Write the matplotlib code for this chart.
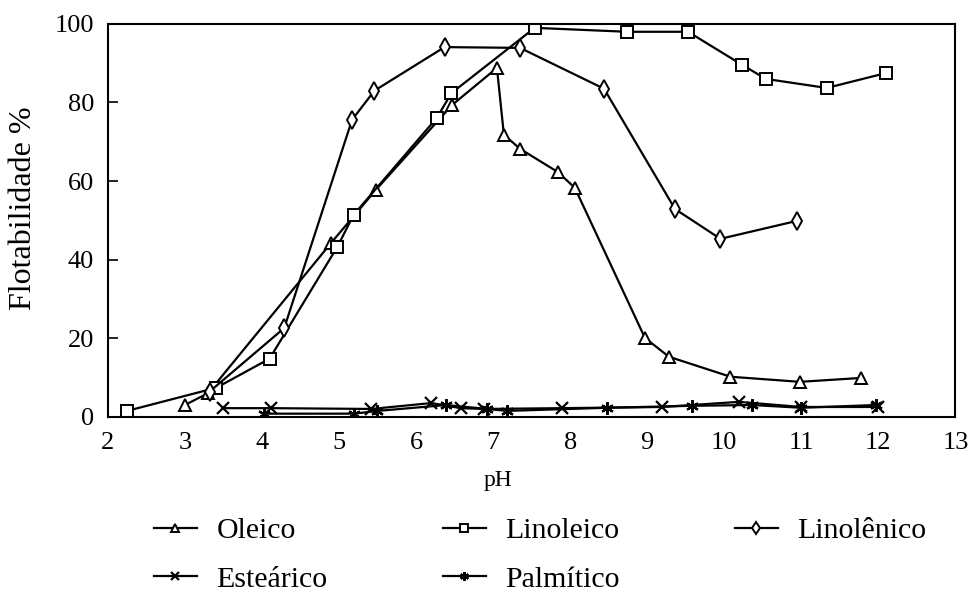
import matplotlib
matplotlib.use("Agg")
import matplotlib.pyplot as plt

plt.rcParams['font.family'] = ['Liberation Serif', 'DejaVu Serif']

# Data
oleico_x = [3.0, 3.3, 4.9, 5.48, 6.47, 7.05, 7.14, 7.35, 7.84, 8.06, 8.97, 9.28, 10.08, 10.98, 11.78]
oleico_y = [3.0, 6.0, 44.3, 57.8, 79.4, 88.8, 71.8, 68.2, 62.3, 58.3, 20.1, 15.3, 10.2, 8.9, 9.9]

linoleico_x = [2.25, 3.41, 4.10, 4.98, 5.19, 6.27, 6.46, 7.54, 8.74, 9.53, 10.23, 10.54, 11.33, 12.10]
linoleico_y = [1.5, 7.4, 14.8, 43.3, 51.4, 76.1, 82.4, 99.0, 98.0, 98.0, 89.6, 86.0, 83.7, 87.5]

linolenico_x = [3.32, 4.29, 5.17, 5.46, 6.37, 7.35, 8.44, 9.36, 9.95, 10.95]
linolenico_y = [6.4, 22.6, 75.6, 83.0, 94.1, 93.9, 83.5, 52.9, 45.3, 49.9]

estearico_x = [3.5, 4.12, 5.42, 6.2, 6.58, 6.88, 7.89, 9.19, 10.19, 11.0, 12.0]
estearico_y = [2.2, 2.2, 2.0, 3.5, 2.2, 2.0, 2.2, 2.5, 3.8, 2.5, 2.5]

palmitico_x = [4.03, 5.2, 5.5, 6.39, 6.92, 7.18, 8.48, 9.58, 10.36, 11.0, 11.97]
palmitico_y = [0.8, 0.8, 1.5, 3.0, 2.0, 1.5, 2.3, 2.8, 3.0, 2.3, 3.0]

series_labels = ["Oleico", "Linoleico", "Linolênico", "Esteárico", "Palmítico"]
xticks = list(range(2, 14))
yticks = [0, 20, 40, 60, 80, 100]

fig = plt.figure(figsize=(9.71, 5.98), dpi=100)
ax = fig.add_axes([0.111, 0.303, 0.873, 0.657])

lw = 1.6
common = dict(color='black', lw=lw, mfc='white', mec='black', mew=1.4)
h1, = ax.plot(oleico_x, oleico_y, marker='^', ms=8.5, label=series_labels[0], **common)
h2, = ax.plot(linoleico_x, linoleico_y, marker='s', ms=8.5, label=series_labels[1], **common)
h3, = ax.plot(linolenico_x, linolenico_y, marker='d', ms=9, label=series_labels[2], **common)
h4, = ax.plot(estearico_x, estearico_y, marker='x', ms=8, color='black', lw=lw, mew=1.6, label=series_labels[3])
h5, = ax.plot(palmitico_x, palmitico_y, marker=(6, 2, 0), ms=9, color='black', lw=lw, mew=1.6, label=series_labels[4])

ax.set_xlim(2, 13)
ax.set_ylim(0, 100)
ax.set_xticks(xticks)
ax.set_yticks(yticks)
ax.tick_params(axis='x', length=0, pad=11, labelsize=19)
ax.tick_params(axis='y', direction='in', length=7, width=1.2, pad=10, labelsize=19)
for s in ax.spines.values():
    s.set_linewidth(1.5)

ax.set_xlabel("pH", fontsize=17)
ax.xaxis.set_label_coords(0.46, -0.135)
ax.set_ylabel("Flotabilidade %", fontsize=23)
ax.yaxis.set_label_coords(-0.082, 0.53)

handles = [h1, h4, h2, h5, h3]
labels = [h.get_label() for h in handles]
fig.legend(handles, labels, ncol=3, frameon=False, fontsize=21.5,
           loc='upper left', bbox_to_anchor=(0.146, 0.155),
           handlelength=1.45, columnspacing=3.85, labelspacing=0.72,
           handletextpad=0.65, markerscale=0.7, borderaxespad=0.0)

fig.savefig("out.png", dpi=100, facecolor='white')
